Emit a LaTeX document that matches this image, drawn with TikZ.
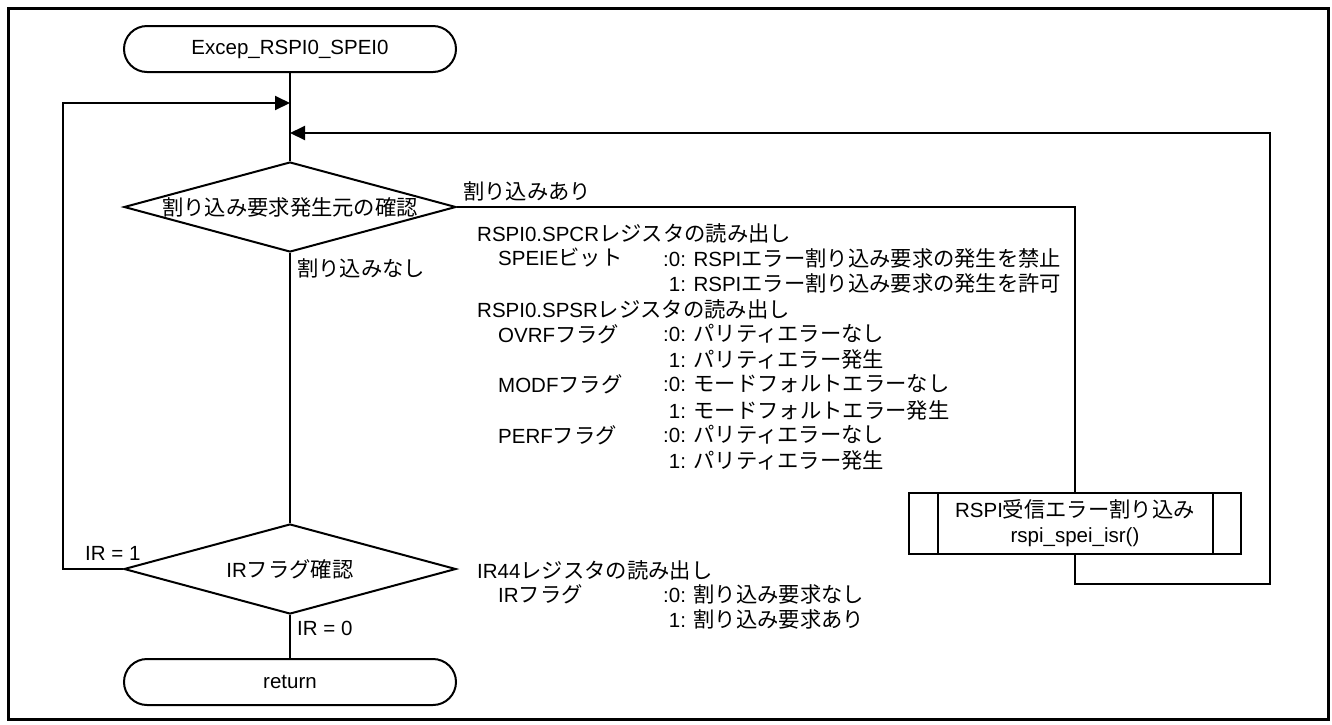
\documentclass[tikz,border=0pt]{standalone}
\usepackage{fontspec}
\setmainfont{Liberation Sans}
\newfontfamily\jpf[Scale=1.04]{Noto Sans CJK JP}
\newcommand\jp[1]{{\jpf #1}}
\usetikzlibrary{shapes.geometric,arrows.meta}
\tikzset{
  base/.style={font=\fontsize{20.5}{25}\selectfont},
  term/.style={base, draw, line width=2pt, rounded corners=23pt, minimum width=332pt, minimum height=46pt, inner sep=0pt},
  dec/.style={base, draw, line width=2pt, shape=diamond, aspect=3.7, minimum width=332pt, minimum height=90pt, inner sep=0pt},
  proc/.style={base, draw, line width=2pt, minimum width=332pt, minimum height=61pt, inner sep=0pt, align=center},
  txt/.style={base, inner sep=0pt, anchor=west},
  flowline/.style={line width=2pt},
  flowarrow/.style={line width=2pt, -{Triangle[length=15pt,width=14pt]}},
}
\begin{document}
\begin{tikzpicture}[x=1pt,y=-1pt]
\useasboundingbox (0,0) rectangle (1332,724);
\node[draw, line width=3pt, minimum width=1320pt, minimum height=711pt, inner sep=0pt, anchor=north west] (frame) at (6.5,6.5) {};

\node[term] (start) at (290,49) {Excep\_RSPI0\_SPEI0};
\node[dec] (d1) at (290,207) {\jp{割り込み要求発生元の確認}};
\node[dec] (d2) at (290,569) {IR\jp{フラグ確認}};
\node[term] (ret) at (290,682) {return};
\node[proc] (sub) at (1075,523.5) {RSPI\jp{受信エラー割り込み}\\rspi\_spei\_isr()};
\draw[flowline] ([xshift=30pt]sub.north west) -- ([xshift=30pt]sub.south west);
\draw[flowline] ([xshift=-29pt]sub.north east) -- ([xshift=-29pt]sub.south east);

\coordinate (j1) at (290,103);
\coordinate (j2) at (290,133);

\draw[flowline] (start.south) -- (d1.north);
\draw[flowline] (d1.south) -- (d2.north);
\draw[flowline] (d2.south) -- (ret.north);
\draw[flowline] (d1.east) -| (sub.north);
\draw[flowarrow] (sub.south) |- (1270,584) |- (j2);
\draw[flowarrow] (d2.west) -| (63,400) |- (j1);

\node[txt] (yes1) at (463,191) {\jp{割り込みあり}};
\node[txt] (no1) at (297,268) {\jp{割り込みなし}};
\node[txt] (ir1) at (85,553) {IR = 1};
\node[txt] (ir0) at (297,628) {IR = 0};

\node[txt] (a1) at (477,233) {RSPI0.SPCR\jp{レジスタの読み出し}};
\node[txt] (a2) at (498,258) {SPEIE\jp{ビット}};
\node[txt] (a3) at (663,258) {:0: RSPI\jp{エラー割り込み要求の発生を禁止}};
\node[txt] (a4) at (663,283) {\phantom{:}1: RSPI\jp{エラー割り込み要求の発生を許可}};
\node[txt] (b1) at (477,309) {RSPI0.SPSR\jp{レジスタの読み出し}};
\node[txt] (b2) at (498,334) {OVRF\jp{フラグ}};
\node[txt] (b3) at (663,334) {:0: \jp{パリティエラーなし}};
\node[txt] (b4) at (663,359) {\phantom{:}1: \jp{パリティエラー発生}};
\node[txt] (b5) at (498,384) {MODF\jp{フラグ}};
\node[txt] (b6) at (663,384) {:0: \jp{モードフォルトエラーなし}};
\node[txt] (b7) at (663,410) {\phantom{:}1: \jp{モードフォルトエラー発生}};
\node[txt] (b8) at (498,435) {PERF\jp{フラグ}};
\node[txt] (b9) at (663,435) {:0: \jp{パリティエラーなし}};
\node[txt] (b10) at (663,460) {\phantom{:}1: \jp{パリティエラー発生}};

\node[txt] (c1) at (477,570) {IR44\jp{レジスタの読み出し}};
\node[txt] (c2) at (498,594) {IR\jp{フラグ}};
\node[txt] (c3) at (663,594) {:0: \jp{割り込み要求なし}};
\node[txt] (c4) at (663,619) {\phantom{:}1: \jp{割り込み要求あり}};
\end{tikzpicture}
\end{document}
